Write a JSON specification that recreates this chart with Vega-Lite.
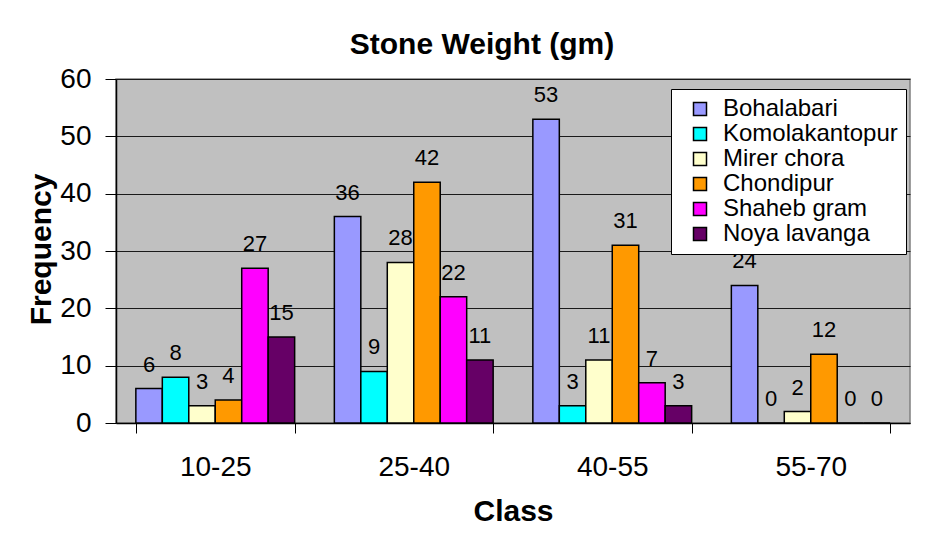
{
  "$schema": "https://vega.github.io/schema/vega-lite/v6.json",
  "width": 794,
  "height": 344,
  "autosize": {"type": "none"},
  "padding": {"left": 116, "top": 79, "right": 32, "bottom": 110},
  "background": "white",
  "title": {"text": "Stone Weight (gm)", "frame": "group", "anchor": "middle", "baseline": "alphabetic", "offset": 0, "dy": 19, "dx": -31, "fontSize": 30, "font": "Liberation Sans", "fontWeight": "bold", "color": "black"},
  "data": {"values": [
    {"class": "10-25", "site": "Bohalabari", "freq": 6},
    {"class": "10-25", "site": "Komolakantopur", "freq": 8},
    {"class": "10-25", "site": "Mirer chora", "freq": 3},
    {"class": "10-25", "site": "Chondipur", "freq": 4},
    {"class": "10-25", "site": "Shaheb gram", "freq": 27},
    {"class": "10-25", "site": "Noya lavanga", "freq": 15},
    {"class": "25-40", "site": "Bohalabari", "freq": 36},
    {"class": "25-40", "site": "Komolakantopur", "freq": 9},
    {"class": "25-40", "site": "Mirer chora", "freq": 28},
    {"class": "25-40", "site": "Chondipur", "freq": 42},
    {"class": "25-40", "site": "Shaheb gram", "freq": 22},
    {"class": "25-40", "site": "Noya lavanga", "freq": 11},
    {"class": "40-55", "site": "Bohalabari", "freq": 53},
    {"class": "40-55", "site": "Komolakantopur", "freq": 3},
    {"class": "40-55", "site": "Mirer chora", "freq": 11},
    {"class": "40-55", "site": "Chondipur", "freq": 31},
    {"class": "40-55", "site": "Shaheb gram", "freq": 7},
    {"class": "40-55", "site": "Noya lavanga", "freq": 3},
    {"class": "55-70", "site": "Bohalabari", "freq": 24},
    {"class": "55-70", "site": "Komolakantopur", "freq": 0},
    {"class": "55-70", "site": "Mirer chora", "freq": 2},
    {"class": "55-70", "site": "Chondipur", "freq": 12},
    {"class": "55-70", "site": "Shaheb gram", "freq": 0},
    {"class": "55-70", "site": "Noya lavanga", "freq": 0}
  ]},
  "encoding": {
    "x": {
      "field": "class", "type": "nominal",
      "sort": ["10-25", "25-40", "40-55", "55-70"],
      "scale": {"paddingInner": 0.2, "paddingOuter": 0.1},
      "title": "Class",
      "axis": {
        "labelAngle": 0, "labelFontSize": 28, "labelColor": "black", "labelPadding": 20,
        "tickBand": "extent", "tickSize": 10, "tickColor": "black", "tickWidth": 1,
        "domainColor": "black", "domainWidth": 1.5, "grid": false,
        "titleFontSize": 30, "titleFontWeight": "bold", "titleColor": "black",
        "titleY": 97, "titleBaseline": "alphabetic"
      }
    },
    "xOffset": {"field": "site", "type": "nominal", "sort": ["Bohalabari", "Komolakantopur", "Mirer chora", "Chondipur", "Shaheb gram", "Noya lavanga"]},
    "y": {
      "field": "freq", "type": "quantitative",
      "scale": {"domain": [0, 60], "nice": false},
      "title": "Frequency",
      "axis": {
        "values": [0, 10, 20, 30, 40, 50, 60],
        "labelFontSize": 28, "labelColor": "black", "labelPadding": 14,
        "tickSize": 11, "tickColor": "black", "tickWidth": 1,
        "domainColor": "black", "domainWidth": 1.5,
        "grid": true, "gridColor": "#1a1a1a", "gridWidth": 1,
        "titleFontSize": 30, "titleFontWeight": "bold", "titleColor": "black",
        "titleX": -66, "titleY": 170, "titleAngle": 270, "titleAlign": "center", "titleBaseline": "alphabetic"
      }
    }
  },
  "layer": [
    {
      "mark": {"type": "bar", "stroke": "black", "strokeWidth": 1.5},
      "encoding": {
        "color": {
          "field": "site", "type": "nominal",
          "scale": {
            "domain": ["Bohalabari", "Komolakantopur", "Mirer chora", "Chondipur", "Shaheb gram", "Noya lavanga"],
            "range": ["#9999FF", "#00FFFF", "#FFFFCC", "#FF9900", "#FF00FF", "#660066"]
          },
          "legend": {
            "title": null, "orient": "none", "legendX": 555, "legendY": 10,
            "fillColor": "white", "strokeColor": "black", "padding": 8,
            "symbolType": "square", "symbolSize": 169, "symbolStrokeColor": "black", "symbolStrokeWidth": 1.5,
            "symbolOffset": 9, "labelOffset": 11, "labelLimit": 400,
            "labelFontSize": 24, "labelColor": "black", "rowPadding": 1
          }
        }
      }
    },
    {
      "mark": {"type": "text", "baseline": "alphabetic", "dy": -17, "fontSize": 22, "color": "black"},
      "encoding": {"text": {"field": "freq", "type": "quantitative"}}
    }
  ],
  "config": {
    "font": "Liberation Sans",
    "view": {"fill": "#C0C0C0", "stroke": "#808080", "strokeWidth": 1.5}
  }
}
